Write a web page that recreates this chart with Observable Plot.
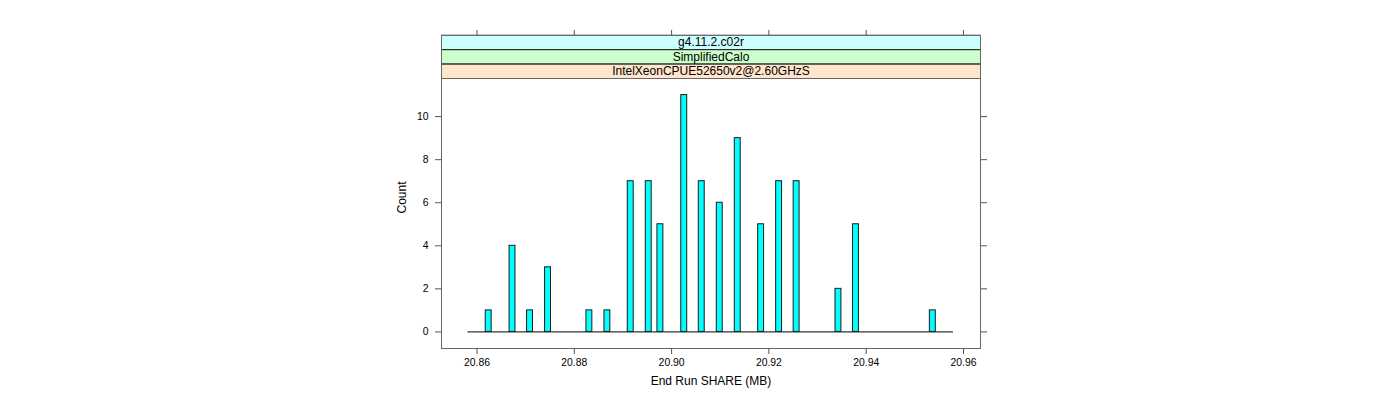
<!DOCTYPE html>
<html>
<head>
<meta charset="utf-8">
<script src="https://cdn.jsdelivr.net/npm/d3@7"></script>
<script src="https://cdn.jsdelivr.net/npm/@observablehq/plot@0.6"></script>
<style>
  html, body { margin: 0; padding: 0; background: white; }
</style>
</head>
<body>
<div id="chart"></div>
<script>
// ---- data ----
const binStart = 20.85815;     // first histogram break (MB)
const binWidth = 0.001217;     // histogram bin width (MB)
const binCount = 82;           // number of bins
const binMids = [20.8624, 20.8673, 20.8709, 20.8746, 20.8831, 20.8868, 20.8916, 20.8953, 20.8977,
                 20.9026, 20.9062, 20.9099, 20.9136, 20.9184, 20.9221, 20.9257, 20.9343, 20.9379, 20.9537];
const counts  = [1, 4, 1, 3, 1, 1, 7, 7, 5, 11, 7, 6, 9, 5, 7, 7, 2, 5, 1];
const xTicks = [20.86, 20.88, 20.90, 20.92, 20.94, 20.96];
const yTicks = [0, 2, 4, 6, 8, 10];
const stripLabels = ["g4.11.2.c02r", "SimplifiedCalo", "IntelXeonCPUE52650v2@2.60GHzS"];
const xLabel = "End Run SHARE (MB)";
const yLabel = "Count";

// ---- styles ----
const stripColors = ["#CCFFFF", "#CCFFCC", "#FFE5CC"];
const font = "'Liberation Sans', Arial, Helvetica, sans-serif";

const data = binMids.map((m, i) => ({mid: m, count: counts[i]}));

const chart = Plot.plot({
  width: 1400,
  height: 400,
  marginLeft: 441,
  marginRight: 420,
  marginTop: 78,
  marginBottom: 52,
  style: {fontFamily: font, fontSize: "10.4px", background: "white", color: "black"},
  x: {domain: [20.8527, 20.9635]},
  y: {domain: [-0.77, 11.77]},
  marks: [
    Plot.ruleY([0], {x1: () => binStart, x2: () => binStart + binCount * binWidth, stroke: "black", strokeWidth: 1}),
    Plot.rect(data, {
      x1: d => d.mid - binWidth / 2,
      x2: d => d.mid + binWidth / 2,
      y1: 0,
      y2: "count",
      fill: "#00FFFF",
      stroke: "#1a1a1a",
      strokeWidth: 1
    }),
    Plot.frame({stroke: "#666"}),
    Plot.axisX(xTicks, {anchor: "bottom", tickSize: 6, tickPadding: 4, tickFormat: d3.format(".2f"), label: null, stroke: "#555"}),
    Plot.axisX(xTicks, {anchor: "top", tickSize: 6, tickFormat: () => "", label: null, stroke: "#555", dy: -43}),
    Plot.axisY(yTicks, {anchor: "left", tickSize: 6, tickPadding: 7, label: null, stroke: "#555"}),
    Plot.axisY(yTicks, {anchor: "right", tickSize: 6, tickFormat: () => "", label: null, stroke: "#555"}),
    Plot.text([xLabel], {frameAnchor: "bottom", dy: 36, fontSize: 12, text: d => d}),
    Plot.text([yLabel], {frameAnchor: "left", dx: -39, rotate: -90, fontSize: 12, text: d => d})
  ]
});

document.getElementById("chart").appendChild(chart);

// ---- strips above the panel (lattice style) ----
const [xl, xr] = chart.scale("x").range;
const [yb, yt] = chart.scale("y").range;
const stripH = 14.4;
const svg = d3.select(chart);
const g = svg.append("g");
stripLabels.forEach((lab, i) => {
  const top = yt - stripH * (stripLabels.length - i);
  g.append("rect")
    .attr("x", xl + 0.5).attr("y", top + 0.5)
    .attr("width", xr - xl).attr("height", stripH)
    .attr("fill", stripColors[i])
    .attr("stroke", i === 0 ? "#666" : "#111")
    .attr("stroke-width", 1);
  g.append("text")
    .attr("x", (xl + xr) / 2 + 0.5)
    .attr("y", top + stripH / 2 + 1)
    .attr("text-anchor", "middle")
    .attr("dominant-baseline", "middle")
    .attr("font-family", font)
    .attr("font-size", 12)
    .attr("fill", "black")
    .text(lab);
});
// outer border of the strip block
g.append("rect")
  .attr("x", xl + 0.5).attr("y", yt - stripH * stripLabels.length + 0.5)
  .attr("width", xr - xl).attr("height", stripH * stripLabels.length)
  .attr("fill", "none").attr("stroke", "#666");
</script>
</body>
</html>
